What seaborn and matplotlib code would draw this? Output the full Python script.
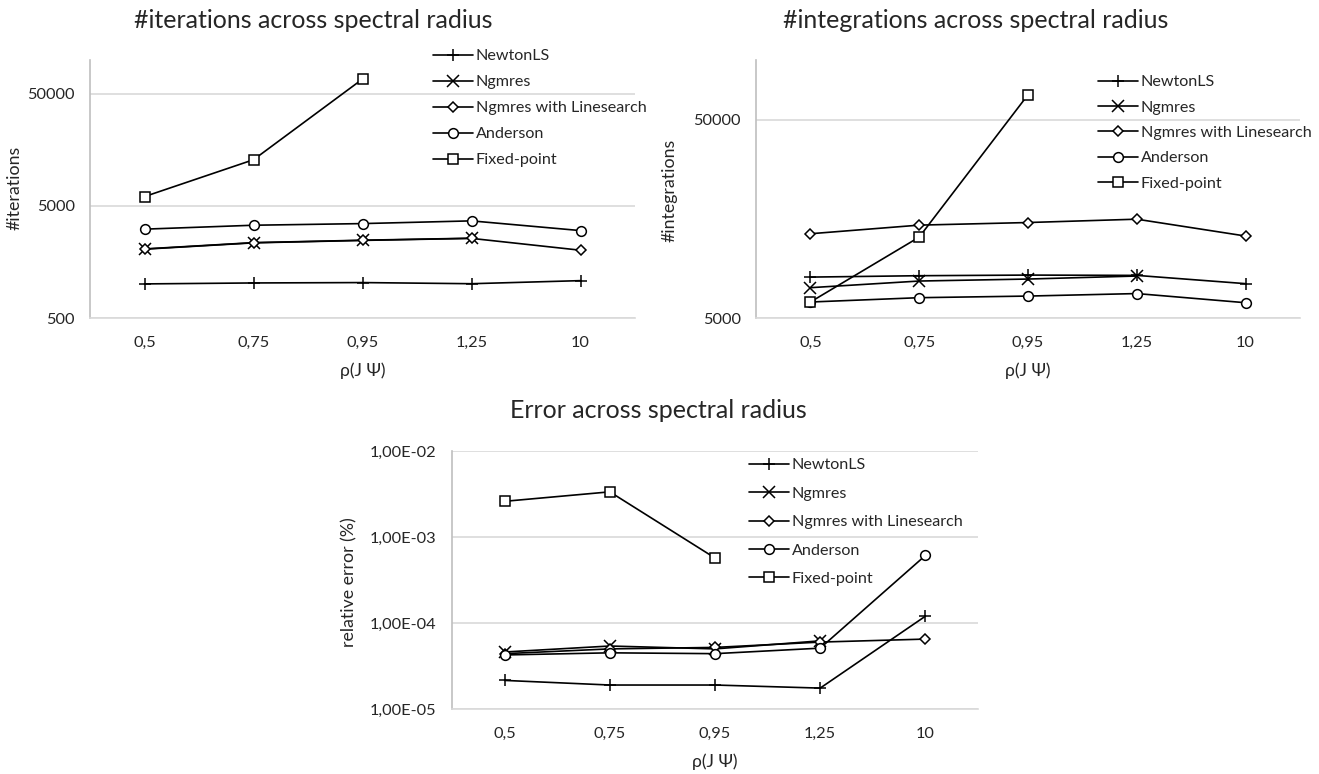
import numpy as np
import pandas as pd
import seaborn as sns
import matplotlib.pyplot as plt
from matplotlib.ticker import FixedLocator, FuncFormatter, NullFormatter

nan = np.nan

# categories on the x axis
rho = ['0,5', '0,75', '0,95', '1,25', '10']
methods = ['NewtonLS', 'Ngmres', 'Ngmres with Linesearch', 'Anderson', 'Fixed-point']

# #iterations
iter_newton = [1007, 1027, 1035, 1011, 1077]
iter_ngmres = [2065, 2350, 2470, 2574, nan]
iter_ngmres_ls = [2055, 2340, 2460, 2565, 2011]
iter_anderson = [3100, 3360, 3475, 3675, 3010]
iter_fixed = [6050, 12900, 67600, nan, nan]

# #integrations
integ_newton = [8040, 8170, 8230, 8200, 7450]
integ_ngmres = [7110, 7680, 7860, 8140, nan]
integ_ngmres_ls = [13300, 14700, 15150, 15750, 12950]
integ_anderson = [6020, 6330, 6450, 6640, 5970]
integ_fixed = [6020, 12790, 66800, nan, nan]

# relative error (%)
err_newton = [2.15e-5, 1.9e-5, 1.9e-5, 1.75e-5, 1.2e-4]
err_ngmres = [4.6e-5, 5.4e-5, 5.0e-5, 6.2e-5, nan]
err_ngmres_ls = [4.4e-5, 5.0e-5, 5.2e-5, 6.0e-5, 6.5e-5]
err_anderson = [4.25e-5, 4.5e-5, 4.4e-5, 5.1e-5, 6.1e-4]
err_fixed = [2.6e-3, 3.35e-3, 5.7e-4, nan, nan]

markers = {'NewtonLS': '+', 'Ngmres': 'x', 'Ngmres with Linesearch': 'D',
           'Anderson': 'o', 'Fixed-point': 's'}
msizes = {'+': 9, 'x': 8, 'D': 5.5, 'o': 7, 's': 7}

sns.set_style('white')
plt.rcParams['font.family'] = ['Lato', 'DejaVu Sans']

W, H = 1319, 774
fig = plt.figure(figsize=(W / 100, H / 100), dpi=100)


def px_axes(x0, y0, x1, y1):
    return fig.add_axes([x0 / W, 1 - y1 / H, (x1 - x0) / W, (y1 - y0) / H])


def draw(ax, series, ylim, major, minor, fmt, leg_xy, spacing):
    for name, vals in zip(methods, series):
        df = pd.DataFrame({'x': np.arange(len(rho)), 'y': vals}).dropna()
        m = markers[name]
        sns.lineplot(data=df, x='x', y='y', ax=ax, color='black', lw=1.2,
                     marker=m, markersize=msizes[m],
                     markerfacecolor='white', markeredgecolor='black',
                     markeredgewidth=1.1, label=name)
    ax.set_yscale('log')
    ax.set_ylim(*ylim)
    ax.set_xlim(-0.5, len(rho) - 0.5)
    ax.set_xticks(range(len(rho)))
    ax.set_xticklabels(rho)
    ax.yaxis.set_major_locator(FixedLocator(major))
    ax.yaxis.set_minor_locator(FixedLocator(minor))
    ax.yaxis.set_major_formatter(FuncFormatter(fmt))
    ax.yaxis.set_minor_formatter(NullFormatter())
    ax.grid(axis='y', which='major', color='#d9d9d9', lw=1.2)
    ax.set_axisbelow(True)
    for s in ['top', 'right']:
        ax.spines[s].set_visible(False)
    ax.spines['left'].set_color('#bfbfbf')
    ax.spines['left'].set_linewidth(1.2)
    ax.spines['bottom'].set_color('#d9d9d9')
    ax.spines['bottom'].set_linewidth(1.2)
    ax.tick_params(axis='x', length=0, pad=13, labelsize=11.8)
    ax.tick_params(axis='y', which='both', direction='in', length=3,
                   color='#bfbfbf', pad=11, labelsize=11.8)
    ax.set_ylabel('')
    ax.set_xlabel('\u03c1(J \u03a8)', fontsize=12.7, labelpad=9)
    h, l = ax.get_legend_handles_labels()
    ax.legend(h, l, loc='upper left', bbox_to_anchor=(leg_xy[0] / W, 1 - leg_xy[1] / H),
              bbox_transform=fig.transFigure, frameon=False, fontsize=11.6,
              borderpad=0, borderaxespad=0, handlelength=2.5, handletextpad=0.15,
              labelspacing=spacing)


ax1 = px_axes(90, 60, 635, 318)
draw(ax1, [iter_newton, iter_ngmres, iter_ngmres_ls, iter_anderson, iter_fixed],
     (500, 1e5), [500, 5000, 50000],
     [m * b for b in (500, 5000, 50000) for m in range(1, 10)],
     lambda v, p: f'{v:.0f}', (433, 49), 0.73)

ax2 = px_axes(756, 60, 1300, 318)
draw(ax2, [integ_newton, integ_ngmres, integ_ngmres_ls, integ_anderson, integ_fixed],
     (5000, 1e5), [5000, 50000],
     [m * b for b in (5000, 50000) for m in range(1, 10)],
     lambda v, p: f'{v:.0f}', (1098, 75), 0.69)

ax3 = px_axes(452, 451, 978, 709)
draw(ax3, [err_newton, err_ngmres, err_ngmres_ls, err_anderson, err_fixed],
     (1e-5, 1e-2), [1e-5, 1e-4, 1e-3, 1e-2],
     [m * b for b in (1e-5, 1e-4, 1e-3) for m in range(1, 10)],
     lambda v, p: f'{v:.2E}'.replace('.', ','), (749, 458), 0.88)

fig.text(313 / W, 1 - 21 / H, '#iterations across spectral radius', ha='center', va='center', fontsize=18)
fig.text(976 / W, 1 - 21 / H, '#integrations across spectral radius', ha='center', va='center', fontsize=18)
fig.text(658 / W, 1 - 410 / H, 'Error across spectral radius', ha='center', va='center', fontsize=18)

fig.text(15 / W, 1 - 188 / H, '#iterations', rotation=90, ha='center', va='center', fontsize=12.8)
fig.text(670 / W, 1 - 190 / H, '#integrations', rotation=90, ha='center', va='center', fontsize=12.8)
fig.text(349 / W, 1 - 582 / H, 'relative error (%)', rotation=90, ha='center', va='center', fontsize=12.8)

fig.savefig('out.png', dpi=100)
